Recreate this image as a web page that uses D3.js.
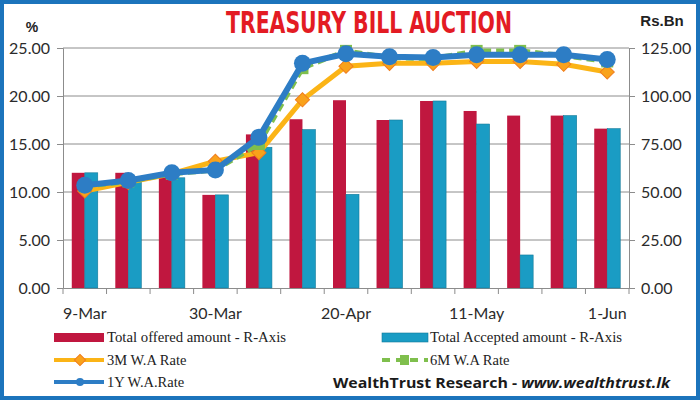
<!DOCTYPE html>
<html><head><meta charset="utf-8">
<script src="https://cdn.jsdelivr.net/npm/d3@7"></script>
<style>body{margin:0;background:#fff}svg{display:block}</style>
</head><body><svg id="c" width="700" height="400"></svg>
<script>
const categories = ["9-Mar","16-Mar","23-Mar","30-Mar","6-Apr","13-Apr","20-Apr","27-Apr","4-May","11-May","18-May","25-May","1-Jun"];
const offered  = [60.0, 60.0, 60.0, 48.5, 80.0, 87.9, 97.8, 87.5, 97.4, 92.2, 89.8, 89.8, 83.0];
const accepted = [60.0, 57.0, 57.4, 48.5, 73.3, 82.5, 48.8, 87.5, 97.4, 85.4, 17.2, 89.8, 83.0];
const rate3M = [10.1, 11.0, 11.9, 13.2, 14.1, 19.6, 23.1, 23.4, 23.4, 23.6, 23.6, 23.3, 22.5];
const rate6M = [10.6, 11.1, 11.9, 12.3, 15.0, 22.9, 24.7, 24.0, 23.9, 24.7, 24.7, 24.2, 23.6];
const rate1Y = [10.7, 11.2, 12.0, 12.3, 15.7, 23.4, 24.4, 24.1, 24.0, 24.3, 24.3, 24.3, 23.8];
const leftTicks = [0,5,10,15,20,25];
const rightTicks = [0,25,50,75,100,125];
const xLabels = ["9-Mar","30-Mar","20-Apr","11-May","1-Jun"];

const svg = d3.select("#c");
const L = 63, R = 629, T = 48, B = 288;
const x = d3.scaleBand().domain(categories).range([L, R]);
const yL = d3.scaleLinear().domain([0,25]).range([B, T]);
const yR = d3.scaleLinear().domain([0,125]).range([B, T]);
const gridCol = "#8c8c8c";

// frame
svg.append("rect").attr("x",2).attr("y",2).attr("width",696).attr("height",396)
  .attr("fill","none").attr("stroke","#1c74bc").attr("stroke-width",4);

// gridlines
svg.append("g").selectAll("line").data(leftTicks.filter(d=>d>0)).join("line")
  .attr("x1",L).attr("x2",R).attr("y1",d=>yL(d)).attr("y2",d=>yL(d))
  .attr("stroke",gridCol).attr("stroke-width",1);

// axes
const axL = svg.append("g").attr("transform",`translate(${L},0)`)
  .call(d3.axisLeft(yL).tickValues(leftTicks).tickFormat(d3.format(".2f")).tickSize(6).tickPadding(7));
const axR = svg.append("g").attr("transform",`translate(${R},0)`)
  .call(d3.axisRight(yR).tickValues(rightTicks).tickFormat(d3.format(".2f")).tickSize(6).tickPadding(6));
const axB = svg.append("g").attr("transform",`translate(0,${B})`)
  .call(d3.axisBottom(x).tickValues(xLabels).tickSize(0).tickPadding(20));
[axL,axR,axB].forEach(a=>{
  a.select(".domain").attr("stroke",gridCol);
  a.selectAll(".tick line").attr("stroke",gridCol);
  a.selectAll("text").attr("font-family","Lato, 'Open Sans', sans-serif").attr("font-size",16).attr("fill","#2b2b2b");
});
// category boundary ticks
svg.append("g").selectAll("line").data(categories.concat(["_end"])).join("line")
  .attr("x1",(d,i)=>L+i*x.step()).attr("x2",(d,i)=>L+i*x.step())
  .attr("y1",B).attr("y2",B+6).attr("stroke",gridCol);

// bars
const bw = 13;
const gBars = svg.append("g");
gBars.selectAll(".off").data(categories).join("rect")
  .attr("x",d=>x(d)+x.bandwidth()/2-bw).attr("width",bw)
  .attr("y",(d,i)=>yR(offered[i])).attr("height",(d,i)=>B-yR(offered[i]))
  .attr("fill","#c0173f");
gBars.selectAll(".acc").data(categories).join("rect")
  .attr("x",d=>x(d)+x.bandwidth()/2).attr("width",bw)
  .attr("y",(d,i)=>yR(accepted[i])).attr("height",(d,i)=>B-yR(accepted[i]))
  .attr("fill","#1a9cc4").attr("stroke","#137a99").attr("stroke-width",0.6);

const cx = d => x(d)+x.bandwidth()/2;
const line = arr => d3.line().x((d,i)=>cx(categories[i])).y(d=>yL(d))(arr);

// 3M
svg.append("path").attr("d",line(rate3M)).attr("fill","none").attr("stroke","#fbb416").attr("stroke-width",5);
svg.append("g").selectAll("path").data(rate3M).join("path")
  .attr("d",d3.symbol(d3.symbolSquare, 100))
  .attr("transform",(d,i)=>`translate(${cx(categories[i])},${yL(d)}) rotate(45)`)
  .attr("fill","#f9a21b").attr("stroke","#f07d1e").attr("stroke-width",1);
// 6M
svg.append("path").attr("d",line(rate6M)).attr("fill","none").attr("stroke","#7fbf4d").attr("stroke-width",5).attr("stroke-dasharray","8,5");
svg.append("g").selectAll("rect").data(rate6M).join("rect")
  .attr("x",(d,i)=>cx(categories[i])-6).attr("y",d=>yL(d)-6).attr("width",12).attr("height",12)
  .attr("fill","#7fbf4d");
// 1Y
svg.append("path").attr("d",line(rate1Y)).attr("fill","none").attr("stroke","#2d7dc5").attr("stroke-width",6);
svg.append("g").selectAll("circle").data(rate1Y).join("circle")
  .attr("cx",(d,i)=>cx(categories[i])).attr("cy",d=>yL(d)).attr("r",8.5)
  .attr("fill","#2d7dc5");

// titles
svg.append("text").attr("x",369).attr("y",33).attr("text-anchor","middle")
  .attr("font-family","'Liberation Sans Narrow','DejaVu Sans Condensed',sans-serif").attr("font-weight","bold")
  .attr("font-size",30).attr("fill","#e31b23").attr("textLength",286).attr("lengthAdjust","spacingAndGlyphs")
  .text("TREASURY BILL AUCTION");
svg.append("text").attr("x",32).attr("y",32).attr("text-anchor","middle")
  .attr("font-family","'Liberation Sans',Arial,sans-serif").attr("font-weight","bold").attr("font-size",14).attr("fill","#222").text("%");
svg.append("text").attr("x",662).attr("y",26).attr("text-anchor","middle")
  .attr("font-family","'Liberation Sans Narrow','Liberation Sans',sans-serif").attr("font-weight","bold").attr("font-size",15).attr("fill","#222").text("Rs.Bn");

// legend
const lf = "'Liberation Serif','Times New Roman',serif";
const lg = svg.append("g").attr("font-family",lf).attr("font-size",14.5).attr("fill","#222");
lg.append("rect").attr("x",54).attr("y",333).attr("width",50).attr("height",9).attr("fill","#c0173f");
lg.append("text").attr("x",107).attr("y",342).attr("textLength",179).attr("lengthAdjust","spacingAndGlyphs").text("Total offered amount - R-Axis");
lg.append("rect").attr("x",382).attr("y",333).attr("width",46).attr("height",9).attr("fill","#1a9cc4").attr("stroke","#137a99").attr("stroke-width",0.6);
lg.append("text").attr("x",430).attr("y",342).attr("textLength",192).attr("lengthAdjust","spacingAndGlyphs").text("Total Accepted amount - R-Axis");
lg.append("line").attr("x1",54).attr("x2",104).attr("y1",360).attr("y2",360).attr("stroke","#fbb416").attr("stroke-width",4);
lg.append("rect").attr("x",76).attr("y",356).attr("width",8).attr("height",8).attr("transform","rotate(45,80,360)").attr("fill","#f9a21b").attr("stroke","#f07d1e");
lg.append("text").attr("x",107).attr("y",365).text("3M W.A Rate");
lg.append("line").attr("x1",382).attr("x2",428).attr("y1",360).attr("y2",360).attr("stroke","#7fbf4d").attr("stroke-width",4).attr("stroke-dasharray","8,6");
lg.append("rect").attr("x",400).attr("y",355).attr("width",9).attr("height",10).attr("fill","#7fbf4d");
lg.append("text").attr("x",430).attr("y",365).text("6M W.A Rate");
lg.append("line").attr("x1",54).attr("x2",104).attr("y1",382).attr("y2",382).attr("stroke","#2d7dc5").attr("stroke-width",4);
lg.append("circle").attr("cx",80).attr("cy",382).attr("r",4).attr("fill","#2d7dc5");
lg.append("text").attr("x",107).attr("y",387).text("1Y W.A.Rate");

const wt = svg.append("text").attr("x",333).attr("y",388)
  .attr("font-family","'Open Sans','DejaVu Sans',sans-serif").attr("font-size",15).attr("font-weight","bold").attr("fill","#1a1a1a")
  .attr("textLength",337).attr("lengthAdjust","spacingAndGlyphs");
wt.append("tspan").text("WealthTrust Research - ");
wt.append("tspan").attr("font-style","italic").text("www.wealthtrust.lk");
</script></body></html>
